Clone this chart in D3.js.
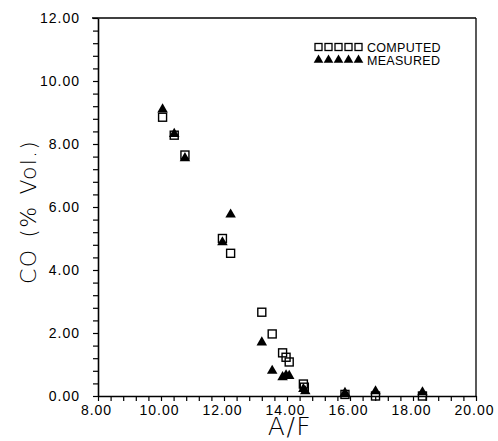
<!DOCTYPE html>
<html lang="en">
<head>
<meta charset="utf-8">
<title>CO vs A/F</title>
<script src="https://cdn.jsdelivr.net/npm/d3@7"></script>
<style>
  html, body { margin: 0; padding: 0; background: #fff; overflow: hidden; }
  text { font-family: "Liberation Sans", Arial, sans-serif; fill: #000; }
  .axis path, .axis line { stroke: #000; }
  .title { font-family: "DejaVu Sans", sans-serif; font-weight: 200; }
</style>
</head>
<body>
<div id="chart"></div>
<script>
// data
var computedAF = [10.05, 10.42, 10.76, 11.95, 12.21, 13.20, 13.53, 13.86, 13.97, 14.07, 14.52, 14.55, 15.84, 16.81, 18.30];
var computedCO = [8.85, 8.28, 7.65, 5.00, 4.53, 2.66, 1.97, 1.37, 1.23, 1.08, 0.38, 0.28, 0.05, 0.00, 0.00];
var measuredAF = [10.05, 10.42, 10.76, 11.95, 12.21, 13.20, 13.53, 13.86, 13.97, 14.07, 14.52, 14.58, 15.84, 16.81, 18.30];
var measuredCO = [9.10, 8.32, 7.55, 4.88, 5.76, 1.70, 0.80, 0.60, 0.66, 0.64, 0.22, 0.15, 0.10, 0.15, 0.12];
var legendNames = ["COMPUTED", "MEASURED"];
var xLabel = "A/F";
var yLabel = "CO (% Vol.)";

var w = 498, h = 441;
var margin = {left: 98, right: 22, top: 18, bottom: 45};

var svg = d3.select("#chart").append("svg")
  .attr("width", w).attr("height", h);

var x = d3.scaleLinear().domain([8, 20]).range([margin.left, w - margin.right]);
var y = d3.scaleLinear().domain([0, 12]).range([h - margin.bottom, margin.top]);

var ticks = d3.range(0, 31).map(function(i){ return i * 0.4; });
var xTicks = ticks.map(function(t){ return +(8 + t).toFixed(1); });
var yTicks = ticks.map(function(t){ return +t.toFixed(1); });
function lab(d){ return Math.abs(d / 2 - Math.round(d / 2)) < 1e-6 ? d.toFixed(2) : ""; }

// frame top and right
svg.append("line").attr("x1", x(8) - 6).attr("x2", x(20)).attr("y1", y(12)).attr("y2", y(12))
  .attr("stroke", "#000").attr("stroke-width", 1.3);
svg.append("line").attr("x1", x(20)).attr("x2", x(20)).attr("y1", y(12)).attr("y2", y(0))
  .attr("stroke", "#000").attr("stroke-width", 1.3);

var gx = svg.append("g").attr("class", "axis")
  .attr("transform", "translate(0," + y(0) + ")")
  .call(d3.axisBottom(x).tickValues(xTicks).tickFormat(lab).tickSize(5).tickPadding(4).tickSizeOuter(0));
gx.select(".domain").attr("stroke-width", 1.6);
gx.selectAll("line").attr("stroke-width", 1.2);
gx.selectAll("text").attr("font-size", 14).attr("letter-spacing", 1).attr("dx", -2)
  .style("font-family", "Liberation Sans, Arial, sans-serif");

var gy = svg.append("g").attr("class", "axis")
  .attr("transform", "translate(" + x(8) + ",0)")
  .call(d3.axisLeft(y).tickValues(yTicks).tickFormat(lab).tickSize(5).tickPadding(13).tickSizeOuter(0));
gy.select(".domain").attr("stroke-width", 1.6);
gy.selectAll("line").attr("stroke-width", 1.2);
gy.selectAll("text").attr("font-size", 14).attr("letter-spacing", 1)
  .style("font-family", "Liberation Sans, Arial, sans-serif");

// axis titles
svg.append("text").attr("class", "title").attr("x", x(14) + 3).attr("y", 435)
  .attr("text-anchor", "middle").attr("font-size", 25).attr("letter-spacing", 1.5).text(xLabel);
svg.append("text").attr("class", "title").attr("transform", "translate(36,212) rotate(-90)")
  .attr("text-anchor", "middle").attr("font-size", 22).attr("letter-spacing", 1.2)
  .attr("word-spacing", 3).text(yLabel);

// markers
var sq = 8, tri = d3.symbol().type(d3.symbolTriangle).size(48);

svg.append("g").selectAll("rect")
  .data(computedAF.map(function(a, i){ return [a, computedCO[i]]; }))
  .enter().append("rect")
  .attr("x", function(d){ return x(d[0]) - sq / 2; })
  .attr("y", function(d){ return y(d[1]) - sq / 2; })
  .attr("width", sq).attr("height", sq)
  .attr("fill", "none").attr("stroke", "#000").attr("stroke-width", 1.4);

svg.append("g").selectAll("path")
  .data(measuredAF.map(function(a, i){ return [a, measuredCO[i]]; }))
  .enter().append("path")
  .attr("d", tri)
  .attr("transform", function(d){ return "translate(" + x(d[0]) + "," + y(d[1]) + ")"; })
  .attr("fill", "#000");

// legend
var leg = svg.append("g");
var lx = 318.5;
d3.range(5).forEach(function(i){
  leg.append("rect").attr("x", lx + i * 10 - 3.5).attr("y", 43.5).attr("width", 7).attr("height", 7)
    .attr("fill", "none").attr("stroke", "#000").attr("stroke-width", 1.3);
  leg.append("path").attr("d", d3.symbol().type(d3.symbolTriangle).size(40))
    .attr("transform", "translate(" + (lx + i * 10) + ",60)").attr("fill", "#000");
});
leg.selectAll("text.lg").data(legendNames).enter().append("text")
  .attr("x", 367).attr("y", function(d, i){ return 52 + i * 13; })
  .attr("font-size", 12.5).attr("letter-spacing", 0.3).text(function(d){ return d; });
</script>
</body>
</html>
